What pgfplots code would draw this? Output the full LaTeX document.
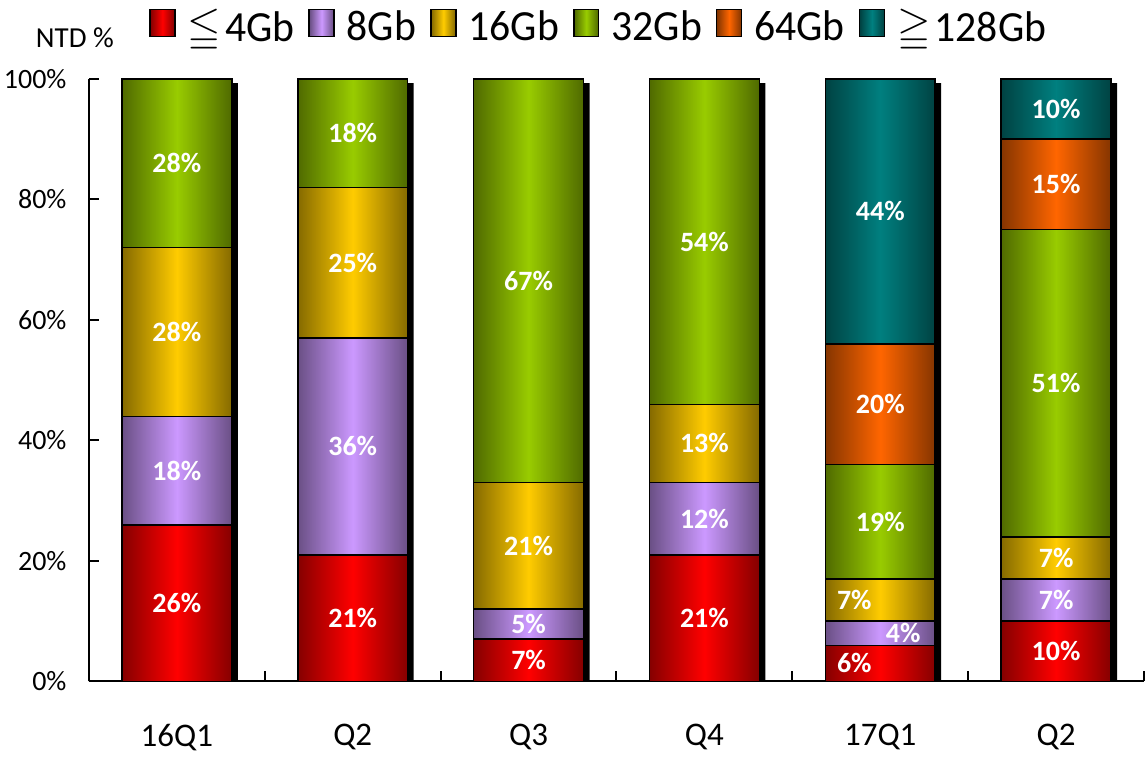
\documentclass[border=0pt]{standalone}
\usepackage{amssymb}
\usepackage{pgfplots}
\pgfplotsset{compat=1.18}
\usetikzlibrary{fadings}
\usepackage{fontspec}
\setmainfont{Carlito}
\newfontfamily\legfont[FakeStretch=0.97]{Carlito}

\definecolor{cRed}{RGB}{255,0,0}
\definecolor{cPur}{RGB}{204,153,255}
\definecolor{cYel}{RGB}{255,204,0}
\definecolor{cGrn}{RGB}{153,204,0}
\definecolor{cOra}{RGB}{255,102,0}
\definecolor{cTea}{RGB}{0,128,128}

\tikzfading[name=edges, left color=transparent!52, right color=transparent!52, middle color=transparent!100]

\pgfplotsset{
  /pgf/number format/assume math mode=true,
  base/.style={scale only axis, width=1056pt, height=603pt,
    xmin=-0.5, xmax=5.5, ymin=0, ymax=100, clip=false},
  sh/.style={fill=#1, draw=black, line width=1.5pt,
    /pgfplots/legend image code/.code={\draw[left color=#1!50!black, right color=#1!50!black, middle color=#1, draw=black, line width=1.5pt] (0pt,-10pt) rectangle (25pt,17pt);}},
  lbl/.style={draw=none, mark=none, nodes near coords={\pgfmathprintnumber{\pgfplotspointmeta}\%},
    point meta=explicit,
    every node near coord/.append style={anchor=center, text=white,
      font=\bfseries\fontsize{28}{30}\selectfont, xshift=#1}},
}

\begin{document}
\begin{tikzpicture}
% shadows
\begin{axis}[base, hide axis, ybar, bar width=110pt]
\addplot[fill=black, draw=none, bar shift=6pt] coordinates {(0,99.3)(1,99.3)(2,99.3)(3,99.3)(4,99.3)(5,99.3)};
\end{axis}
% main bars
\begin{axis}[base, ybar stacked, bar width=110pt,
  axis x line*=bottom, axis y line*=left,
  axis line style={line width=2pt, black},
  tick align=inside, major tick length=10pt,
  every tick/.style={black, line width=2pt},
  ytick={0,20,...,100},
  yticklabel={\pgfmathprintnumber{\tick}\%},
  yticklabel style={font=\fontsize{28}{30}\selectfont, xshift=-19pt},
  xtick={-0.5,0.5,...,5.5}, xticklabels={},
  extra x ticks={0,1,2,3,4,5},
  extra x tick labels={16Q1,Q2,Q3,Q4,17Q1,Q2},
  extra x tick style={major tick length=0pt},
  xticklabel style={font=\fontsize{33}{35}\selectfont, yshift=-39pt},
  legend style={draw=none, fill=none, legend columns=-1, inner sep=0pt,
    at={(rel axis cs:0.0569,1.088)}, anchor=west,
    font=\legfont\fontsize{43}{46}\selectfont,
    nodes={inner sep=0pt},
    /tikz/every odd column/.append style={column sep=12pt},
    /tikz/every even column/.append style={column sep=14pt}},
  legend cell align=left,
]
\addplot[sh=cRed] coordinates {(0,26)(1,21)(2,7)(3,21)(4,6)(5,10)};
\addlegendentry{$\leqq$\kern4pt4Gb}
\addplot[sh=cPur] coordinates {(0,18)(1,36)(2,5)(3,12)(4,4)(5,7)};
\addlegendentry{8Gb}
\addplot[sh=cYel] coordinates {(0,28)(1,25)(2,21)(3,13)(4,7)(5,7)};
\addlegendentry{16Gb}
\addplot[sh=cGrn] coordinates {(0,28)(1,18)(2,67)(3,54)(4,19)(5,51)};
\addlegendentry{32Gb}
\addplot[sh=cOra] coordinates {(0,0)(1,0)(2,0)(3,0)(4,20)(5,15)};
\addlegendentry{64Gb}
\addplot[sh=cTea] coordinates {(0,0)(1,0)(2,0)(3,0)(4,44)(5,10)};
\addlegendentry{$\geqq$\kern4pt128Gb}
\node[font=\fontsize{29}{31}\selectfont] at (rel axis cs:-0.0133,1.069) {NTD \%};
\coordinate (bl) at (rel axis cs:-0.0843,-0.1277);
\coordinate (tr) at (rel axis cs:1.0028,1.131);
\end{axis}
% horizontal gradient overlay, one bar per plot
\begin{axis}[base, hide axis, ybar, bar width=110pt]
\addplot[fill=black, draw=none, bar shift=0pt, path fading=edges] coordinates {(0,100)};
\addplot[fill=black, draw=none, bar shift=0pt, path fading=edges] coordinates {(1,100)};
\addplot[fill=black, draw=none, bar shift=0pt, path fading=edges] coordinates {(2,100)};
\addplot[fill=black, draw=none, bar shift=0pt, path fading=edges] coordinates {(3,100)};
\addplot[fill=black, draw=none, bar shift=0pt, path fading=edges] coordinates {(4,100)};
\addplot[fill=black, draw=none, bar shift=0pt, path fading=edges] coordinates {(5,100)};
\end{axis}
% labels
\begin{axis}[base, hide axis]
\addplot[lbl=0pt] table[meta=v] {
x y v
0 13 26
0 35 18
0 58 28
0 86 28
1 10.5 21
1 39 36
1 69.5 25
1 91 18
2 3.5 7
2 9.5 5
2 22.5 21
2 66.5 67
3 10.5 21
3 27 12
3 39.5 13
3 73 54
4 26.5 19
4 46 20
4 78 44
5 5 10
5 13.5 7
5 20.5 7
5 49.5 51
5 82.5 15
5 95 10
};
\addplot[lbl=-26pt] table[meta=v] {
x y v
4 3 6
4 13.5 7
};
\addplot[lbl=23pt] table[meta=v] {
x y v
4 8 4
};
\end{axis}
\pgfresetboundingbox
\path[use as bounding box] (bl) rectangle (tr);
\end{tikzpicture}
\end{document}
